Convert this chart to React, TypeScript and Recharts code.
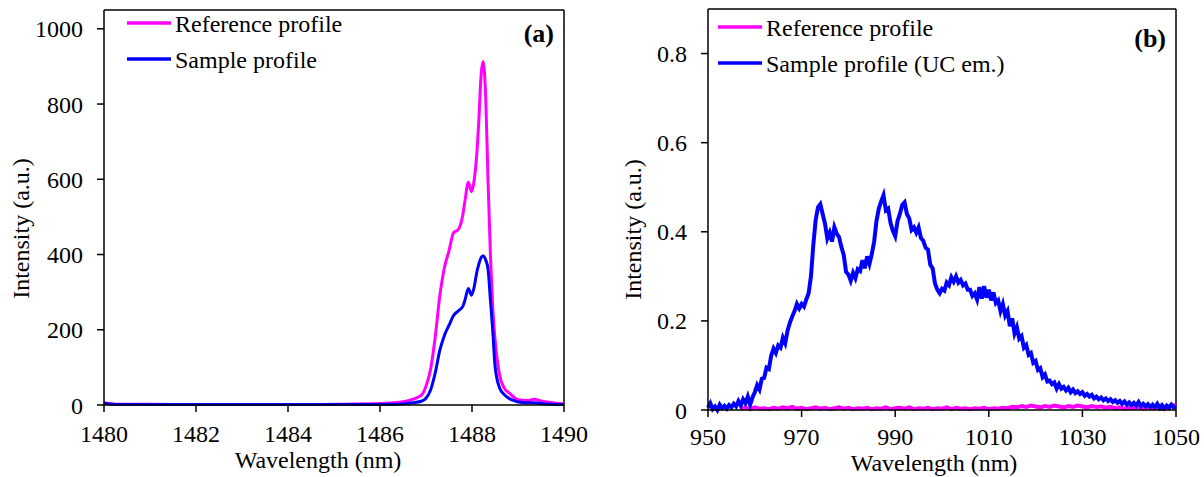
import React from 'react';
import { LineChart, Line, XAxis, YAxis, Legend, ReferenceLine } from 'recharts';

const FONT = '"Liberation Serif", "Times New Roman", Times, serif';
const MAGENTA = '#ff00ff';
const BLUE = '#0000ff';

// ---------- Panel (a): pump laser profiles ----------
const leftWavelength = [
  1480, 1480.3, 1481, 1482, 1483, 1484, 1485, 1486, 1486.3, 1486.5,
  1486.7, 1486.9, 1487.0, 1487.1, 1487.2, 1487.3, 1487.4, 1487.5, 1487.6, 1487.7,
  1487.8, 1487.85, 1487.92, 1487.99, 1488.05, 1488.1, 1488.15, 1488.2, 1488.24, 1488.3,
  1488.35, 1488.4, 1488.45, 1488.5, 1488.6, 1488.7, 1488.8, 1488.9, 1489.0, 1489.2,
  1489.35, 1489.5, 1489.7, 1490,
];
const leftReference = [
  6, 2, 2, 1, 1, 1, 2, 4, 6, 9,
  15, 26, 50, 95, 180, 290, 365, 410, 458, 466,
  505, 545, 592, 567, 600, 660, 760, 880, 913, 810,
  590, 400, 260, 175, 80, 45, 33, 22, 14, 12,
  15, 11, 7, 3,
];
const leftSample = [
  5, 1, 1, 1, 1, 1, 1, 1, 2, 3,
  6, 10, 18, 40, 85, 145, 185, 212, 238, 250,
  262, 280, 310, 292, 315, 350, 375, 392, 396, 385,
  360, 280, 200, 105, 45, 28, 18, 12, 8, 6,
  6, 4, 2, 1,
];
const leftXTicks = [1480, 1482, 1484, 1486, 1488, 1490];
const leftYTicks = [0, 200, 400, 600, 800, 1000];
const leftXDomain: [number, number] = [1480, 1490];
const leftYDomain: [number, number] = [0, 1050];

// ---------- Panel (b): upconversion emission ----------
const rightWavelength = [
  950, 950.5, 951, 951.5, 952, 952.5, 953, 953.5, 954, 954.5,
  955, 955.5, 956, 956.5, 957, 957.5, 958, 958.5, 959, 959.5,
  960, 960.5, 961, 961.5, 962, 962.5, 963, 963.5, 964, 964.5,
  965, 965.5, 966, 966.5, 967, 967.5, 968, 968.5, 969, 969.5,
  970, 970.5, 971, 971.5, 972, 972.5, 973, 973.5, 974, 974.5,
  975, 975.5, 976, 976.5, 977, 977.5, 978, 978.5, 979, 979.5,
  980, 980.5, 981, 981.5, 982, 982.5, 983, 983.5, 984, 984.5,
  985, 985.5, 986, 986.5, 987, 987.5, 988, 988.5, 989, 989.5,
  990, 990.5, 991, 991.5, 992, 992.5, 993, 993.5, 994, 994.5,
  995, 995.5, 996, 996.5, 997, 997.5, 998, 998.5, 999, 999.5,
  1000, 1000.5, 1001, 1001.5, 1002, 1002.5, 1003, 1003.5, 1004, 1004.5,
  1005, 1005.5, 1006, 1006.5, 1007, 1007.5, 1008, 1008.5, 1009, 1009.5,
  1010, 1010.5, 1011, 1011.5, 1012, 1012.5, 1013, 1013.5, 1014, 1014.5,
  1015, 1015.5, 1016, 1016.5, 1017, 1017.5, 1018, 1018.5, 1019, 1019.5,
  1020, 1020.5, 1021, 1021.5, 1022, 1022.5, 1023, 1023.5, 1024, 1024.5,
  1025, 1025.5, 1026, 1026.5, 1027, 1027.5, 1028, 1028.5, 1029, 1029.5,
  1030, 1030.5, 1031, 1031.5, 1032, 1032.5, 1033, 1033.5, 1034, 1034.5,
  1035, 1035.5, 1036, 1036.5, 1037, 1037.5, 1038, 1038.5, 1039, 1039.5,
  1040, 1040.5, 1041, 1041.5, 1042, 1042.5, 1043, 1043.5, 1044, 1044.5,
  1045, 1045.5, 1046, 1046.5, 1047, 1047.5, 1048, 1048.5, 1049, 1049.5,
  1050,
];
const rightSample = [
  0.005, 0.015, 0.002, 0.008, 0.000, 0.012, 0.004, 0.009, 0.003, 0.011,
  0.006, 0.014, 0.008, 0.020, 0.010, 0.024, 0.015, 0.030, 0.012, 0.028,
  0.040, 0.056, 0.046, 0.070, 0.072, 0.095, 0.092, 0.122, 0.138, 0.128,
  0.145, 0.140, 0.162, 0.150, 0.178, 0.196, 0.210, 0.222, 0.238, 0.228,
  0.238, 0.232, 0.248, 0.262, 0.300, 0.370, 0.426, 0.455, 0.462, 0.440,
  0.418, 0.385, 0.398, 0.378, 0.410, 0.396, 0.388, 0.366, 0.348, 0.310,
  0.304, 0.290, 0.308, 0.296, 0.316, 0.312, 0.336, 0.318, 0.345, 0.328,
  0.350, 0.378, 0.424, 0.452, 0.468, 0.482, 0.448, 0.452, 0.420, 0.402,
  0.390, 0.424, 0.440, 0.460, 0.466, 0.440, 0.430, 0.404, 0.410, 0.398,
  0.410, 0.386, 0.380, 0.364, 0.360, 0.326, 0.318, 0.284, 0.270, 0.262,
  0.272, 0.268, 0.286, 0.280, 0.298, 0.288, 0.300, 0.286, 0.292, 0.280,
  0.284, 0.270, 0.270, 0.256, 0.262, 0.248, 0.276, 0.250, 0.278, 0.252,
  0.270, 0.246, 0.264, 0.240, 0.246, 0.222, 0.238, 0.212, 0.222, 0.188,
  0.206, 0.172, 0.186, 0.160, 0.166, 0.140, 0.146, 0.124, 0.128, 0.106,
  0.110, 0.090, 0.094, 0.074, 0.080, 0.064, 0.066, 0.058, 0.062, 0.048,
  0.058, 0.048, 0.052, 0.044, 0.050, 0.040, 0.046, 0.038, 0.042, 0.036,
  0.040, 0.032, 0.036, 0.030, 0.034, 0.026, 0.030, 0.024, 0.028, 0.022,
  0.026, 0.020, 0.024, 0.018, 0.022, 0.016, 0.020, 0.014, 0.019, 0.012,
  0.017, 0.011, 0.016, 0.010, 0.018, 0.009, 0.014, 0.008, 0.013, 0.007,
  0.012, 0.006, 0.014, 0.005, 0.011, 0.004, 0.010, 0.005, 0.012, 0.006,
  0.008,
];
const rightRefWavelength = [
  957, 958, 959, 960, 961, 962, 963, 964, 965, 966,
  967, 968, 969, 970, 971, 972, 973, 974, 975, 976,
  977, 978, 979, 980, 981, 982, 983, 984, 985, 986,
  987, 988, 989, 990, 991, 992, 993, 994, 995, 996,
  997, 998, 999, 1000, 1001, 1002, 1003, 1004, 1005, 1006,
  1007, 1008, 1009, 1010, 1011, 1012, 1013, 1014, 1015, 1016,
  1017, 1018, 1019, 1020, 1021, 1022, 1023, 1024, 1025, 1026,
  1027, 1028, 1029, 1030, 1031, 1032, 1033, 1034, 1035, 1036,
  1037, 1038, 1039, 1040, 1041, 1042, 1043, 1044, 1045, 1046,
  1047, 1048, 1049, 1050,
];
const rightReference = [
  0.003, 0.005, 0.002, 0.006, 0.003, 0.004, 0.002, 0.005, 0.003, 0.006,
  0.004, 0.007, 0.003, 0.005, 0.002, 0.004, 0.006, 0.003, 0.005, 0.002,
  0.004, 0.006, 0.003, 0.005, 0.002, 0.004, 0.003, 0.005, 0.002, 0.004,
  0.003, 0.006, 0.002, 0.004, 0.005, 0.003, 0.006, 0.002, 0.004, 0.003,
  0.005, 0.002, 0.004, 0.003, 0.006, 0.002, 0.005, 0.003, 0.004, 0.002,
  0.004, 0.003, 0.005, 0.002, 0.004, 0.003, 0.005, 0.004, 0.007, 0.006,
  0.009, 0.007, 0.010, 0.008, 0.006, 0.009, 0.007, 0.010, 0.008, 0.006,
  0.009, 0.007, 0.010, 0.008, 0.006, 0.009, 0.007, 0.008, 0.005, 0.007,
  0.004, 0.006, 0.003, 0.005, 0.004, 0.006, 0.003, 0.005, 0.004, 0.006,
  0.003, 0.005, 0.008, 0.012,
];
const rightXTicks = [950, 970, 990, 1010, 1030, 1050];
const rightYTicks = [0, 0.2, 0.4, 0.6, 0.8];
const rightXDomain: [number, number] = [950, 1050];
const rightYDomain: [number, number] = [0, 0.9];

const leftTable = leftWavelength.map((x, i) => ({ x, reference: leftReference[i], sample: leftSample[i] }));
const rightSampleTable = rightWavelength.map((x, i) => ({ x, sample: rightSample[i] }));
const rightReferenceTable = rightRefWavelength.map((x, i) => ({ x, reference: rightReference[i] }));

const axisLine = { stroke: '#000', strokeWidth: 1.5 };
const serifStyle: React.CSSProperties = { fontFamily: FONT, fontSize: 24 };

// Serif tick labels (Times-like)
const renderXTick = (props: any) => (
  <text x={props.x} y={props.y} dy="0.71em" textAnchor="middle" fill="#000" style={serifStyle}>
    {props.payload.value}
  </text>
);
const renderYTick = (props: any) => (
  <text x={props.x} y={props.y} dy="0.355em" textAnchor="end" fill="#000" style={serifStyle}>
    {props.payload.value}
  </text>
);

type LegendEntry = { name: string; color: string };

const makeLegend = (entries: LegendEntry[]) => () => (
  <svg width={360} height={80} style={{ overflow: 'visible' }}>
    {entries.map((e, i) => {
      const y = 23 + i * 36;
      return (
        <g key={e.name}>
          <line x1={0} x2={44} y1={y} y2={y} stroke={e.color} strokeWidth={3.5} />
          <text x={48} y={y + 8.5} fill="#000" style={serifStyle}>
            {e.name}
          </text>
        </g>
      );
    })}
  </svg>
);

const yTitle = (dyCenter: number, xPos: number) => (props: any) => {
  const vb = props.viewBox || {};
  const cy = vb.y + vb.height / 2 + dyCenter;
  return (
    <text x={xPos} y={cy} transform={`rotate(-90, ${xPos}, ${cy})`} textAnchor="middle" fill="#000" style={serifStyle}>
      Intensity (a.u.)
    </text>
  );
};

const xTitle = (dxCenter: number, baseline: number) => (props: any) => {
  const vb = props.viewBox || {};
  return (
    <text x={vb.x + vb.width / 2 + dxCenter} y={baseline} textAnchor="middle" fill="#000" style={serifStyle}>
      Wavelength (nm)
    </text>
  );
};

const panelTag = (tag: string, inset: number, dy: number) => (props: any) => {
  const vb = props.viewBox || {};
  return (
    <text
      x={vb.x + vb.width - inset}
      y={vb.y + dy}
      textAnchor="end"
      fill="#000"
      style={{ fontFamily: FONT, fontSize: 26, fontWeight: 'bold' }}
    >
      {tag}
    </text>
  );
};

function PanelA() {
  return (
    <LineChart width={602} height={477} data={leftTable} margin={{ top: 10, right: 38, bottom: 0, left: 0 }}>
      <XAxis
        dataKey="x"
        type="number"
        domain={leftXDomain}
        ticks={leftXTicks}
        tick={renderXTick}
        tickSize={7}
        tickMargin={13}
        axisLine={axisLine}
        tickLine={axisLine}
        height={72}
        label={{ content: xTitle(-16, 468) }}
      />
      <YAxis
        type="number"
        domain={leftYDomain}
        ticks={leftYTicks}
        tick={renderYTick}
        tickSize={7}
        tickMargin={14}
        axisLine={axisLine}
        tickLine={axisLine}
        width={104}
        label={{ content: yTitle(21, 29) }}
      />
      {/* frame: top and right edges of the plot box */}
      <ReferenceLine y={leftYDomain[1]} stroke="#000" strokeWidth={1.5} label={{ content: panelTag('(a)', 10, 32) }} />
      <ReferenceLine x={leftXDomain[1]} stroke="#000" strokeWidth={1.5} />
      <Legend
        layout="vertical"
        align="center"
        verticalAlign="middle"
        wrapperStyle={{ left: 127, top: 0, width: 360, height: 80 }}
        content={makeLegend([
          { name: 'Reference profile', color: MAGENTA },
          { name: 'Sample profile', color: BLUE },
        ])}
      />
      <Line type="monotone" dataKey="reference" name="Reference profile" stroke={MAGENTA} strokeWidth={3} dot={false} isAnimationActive={false} />
      <Line type="monotone" dataKey="sample" name="Sample profile" stroke={BLUE} strokeWidth={3} dot={false} isAnimationActive={false} />
    </LineChart>
  );
}

function PanelB() {
  return (
    <LineChart width={602} height={477} margin={{ top: 9, right: 28, bottom: 0, left: 0 }}>
      <XAxis
        dataKey="x"
        type="number"
        domain={rightXDomain}
        ticks={rightXTicks}
        tick={renderXTick}
        tickSize={7}
        tickMargin={11}
        axisLine={axisLine}
        tickLine={axisLine}
        height={67}
        allowDuplicatedCategory={false}
        label={{ content: xTitle(-8, 471) }}
      />
      <YAxis
        type="number"
        domain={rightYDomain}
        ticks={rightYTicks}
        tick={renderYTick}
        tickSize={7}
        tickMargin={14}
        axisLine={axisLine}
        tickLine={axisLine}
        width={106}
        label={{ content: yTitle(20, 39) }}
      />
      {/* frame: top and right edges of the plot box */}
      <ReferenceLine y={rightYDomain[1]} stroke="#000" strokeWidth={1.5} label={{ content: panelTag('(b)', 10, 38) }} />
      <ReferenceLine x={rightXDomain[1]} stroke="#000" strokeWidth={1.5} />
      <Legend
        layout="vertical"
        align="center"
        verticalAlign="middle"
        wrapperStyle={{ left: 116, top: 4, width: 360, height: 80 }}
        content={makeLegend([
          { name: 'Reference profile', color: MAGENTA },
          { name: 'Sample profile (UC em.)', color: BLUE },
        ])}
      />
      <Line data={rightReferenceTable} type="linear" dataKey="reference" name="Reference profile" stroke={MAGENTA} strokeWidth={4} dot={false} isAnimationActive={false} />
      <Line data={rightSampleTable} type="linear" dataKey="sample" name="Sample profile (UC em.)" stroke={BLUE} strokeWidth={4} dot={false} isAnimationActive={false} />
    </LineChart>
  );
}

export default function App() {
  return (
    <div style={{ position: 'absolute', left: 0, top: 0, width: 1204, height: 477, background: '#fff', fontFamily: FONT }}>
      <div style={{ position: 'absolute', left: 0, top: 0 }}>
        <PanelA />
      </div>
      <div style={{ position: 'absolute', left: 602, top: 0 }}>
        <PanelB />
      </div>
    </div>
  );
}
